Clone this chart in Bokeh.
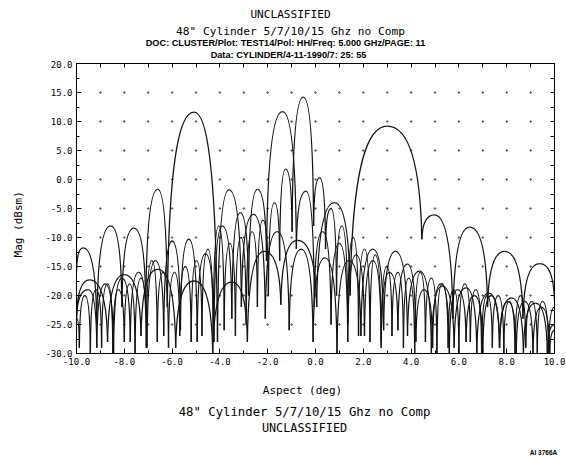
import math
from bokeh.plotting import figure
from bokeh.layouts import column, row
from bokeh.models import (ColumnDataSource, FixedTicker, PrintfTickFormatter,
                          LinearAxis, Label, Range1d)
from bokeh.embed import file_html
from bokeh.resources import INLINE

# ---------------- data ----------------
x_major = [-10, -8, -6, -4, -2, 0, 2, 4, 6, 8, 10]
x_minor = [-10, -9, -8, -7, -6, -5, -4, -3, -2, -1, 0, 1, 2, 3, 4, 5, 6, 7, 8, 9, 10]
y_major = [-30, -25, -20, -15, -10, -5, 0, 5, 10, 15, 20]
y_minor = [-30, -27.5, -25, -22.5, -20, -17.5, -15, -12.5, -10, -7.5, -5, -2.5,
           0, 2.5, 5, 7.5, 10, 12.5, 15, 17.5, 20]
grid_x = [-9, -8, -7, -6, -5, -4, -3, -2, -1, 0, 1, 2, 3, 4, 5, 6, 7, 8, 9]
grid_y = [-25, -20, -15, -10, -5, 0, 5, 10, 15]

# 5 GHz: lobe peaks and nulls (aspect deg, dBsm)
f5_x = [-10.0, -9.45, -8.7, -8.0, -7.3, -6.6, -5.85, -5.08, -4.3, -3.5, -2.85, -2.15,
        -1.45, -0.75, 0.05, 0.79, 1.45, 3.0, 4.45, 4.98, 5.75, 6.45, 7.2, 7.92, 8.68,
        9.38, 10.0]
f5_y = [-24, -17.3, -28, -16.4, -27, -15.5, -29, -17.5, -30, -17.7, -28, -12.4,
        -21.6, -10.5, -22, -4.0, -20, 9.2, -10.3, -6.1, -24, -8.2, -22, -12.4, -24,
        -14.5, -21]

# 7 GHz
f7_x = [-10.0, -9.72, -9.15, -8.57, -8.1, -7.6, -7.1, -6.6, -6.2, -5.08, -4.1, -3.62,
        -3.1, -2.6, -2.1, -1.6, -1.1, -0.6, -0.1, 0.4, 0.9, 1.4, 1.9, 2.4, 2.85, 3.35,
        3.85, 4.35, 4.85, 5.3, 5.8, 6.3, 6.75, 7.25, 7.7, 8.2, 8.7, 9.2, 9.7, 10.0]
f7_y = [-16, -11.8, -25, -8.0, -22, -8.4, -22, -1.7, -22, 11.6, -28, -1.8,
        -22, -6.0, -24, -9.0, -26, -12.0, -28, -13.5, -30, -14.0, -27, -12.0, -26, -12.4,
        -27, -15.8, -30, -18.4, -29, -18.7, -30, -19.6, -29, -20.4, -30, -21.3, -30, -25]

# 10 GHz
f10_x = [-10.0, -9.5, -9.15, -8.8, -8.45, -8.1, -7.75, -7.4, -7.05, -6.7, -6.35, -6.0,
         -5.65, -5.3, -4.95, -4.6, -4.25, -3.9, -3.5, -3.15, -2.8, -2.43, -2.05, -1.38,
         -0.8, -0.4, -0.05, 0.3, 0.65, 1.0, 1.35, 1.7, 2.05, 2.4, 2.75, 3.1, 3.45, 3.85,
         4.2, 4.55, 4.9, 5.25, 5.6, 5.95, 6.3, 6.65, 7.0, 7.35, 7.7, 8.05, 8.4, 8.75,
         9.1, 9.45, 9.8, 10.0]
f10_y = [-24, -19, -29, -18, -30, -17, -28, -16, -29, -14, -27, -10.6,
         -26, -10.3, -28, -12.8, -28, -8, -24, -5.7, -20, -1.7, -14, 11.7,
         -12, -2.0, -22, -9, -25, -11, -28, -13, -27, -14, -28, -16, -26, -14.6,
         -28, -19, -29, -18, -30, -19, -28, -20, -30, -20, -29, -21, -30, -21,
         -30, -22, -30, -26]

# 15 GHz
f15_x = [-10.0, -9.88, -9.65, -9.42, -9.18, -8.95, -8.7, -8.48, -8.25, -8.0, -7.78,
         -7.55, -7.3, -7.08, -6.85, -6.62, -6.38, -6.15, -5.9, -5.68, -5.45, -5.2,
         -4.98, -4.75, -4.5, -4.28, -4.05, -3.82, -3.58, -3.35, -3.12, -2.9, -2.65,
         -2.43, -2.2, -1.97, -1.72, -1.5, -1.25, -0.98, -0.51, -0.08, 0.17, 0.42,
         0.65, 0.88, 1.1, 1.35, 1.58, 1.8, 2.05, 2.28, 2.5, 2.75, 2.98, 3.2, 3.45,
         3.68, 3.9, 4.15, 4.38, 4.6, 4.85, 5.08, 5.3, 5.55, 5.78, 6.0, 6.25, 6.48,
         6.7, 6.95, 7.18, 7.4, 7.65, 7.88, 8.1, 8.35, 8.58, 8.8, 9.05, 9.28, 9.5,
         9.75, 10.0]
f15_y = [-24, -29, -20, -30, -19, -29, -18, -30, -19, -28, -18,
         -30, -17, -29, -14, -28, -16, -29, -16, -27, -15, -28,
         -14, -27, -12, -28, -8, -26, -11, -27, -10, -25, -9,
         -22, -7, -20, -4, -14, 1.8, -9, 14.2, -8, 0.3, -12,
         -5, -20, -8, -25, -10, -27, -12, -28, -13, -29, -15, -27, -16,
         -29, -17, -30, -16, -28, -17, -30, -18, -29, -19, -30, -18, -28,
         -19, -30, -20, -29, -20, -30, -21, -30, -20, -29, -21, -30, -21,
         -30, -22]

curves = [(f5_x, f5_y), (f7_x, f7_y), (f10_x, f10_y), (f15_x, f15_y)]
for cx, cy in curves:
    assert len(cx) == len(cy)

# ---------------- layout geometry (pixels) ----------------
W, H = 566, 456
HEAD_H = 60          # header strip
FOOT_H = 84          # footer strip
MAIN_H = H - HEAD_H - FOOT_H
SIDE_W = 30          # strip holding the rotated y title
MONO = "DejaVu Sans Mono"
SANS = "Liberation Sans"
INK = "#141414"


def strip(w, h):
    f = figure(width=w, height=h, x_range=Range1d(0, w), y_range=Range1d(0, h),
               output_backend="svg", toolbar_location=None, min_border=0,
               x_axis_location=None, y_axis_location=None)
    f.xgrid.visible = False
    f.ygrid.visible = False
    f.outline_line_color = None
    f.background_fill_color = "white"
    f.border_fill_color = "white"
    return f


def put(f, text, px, py, font, size, style="normal", angle=0.0):
    f.add_layout(Label(x=px, y=f.height - py, text=text, text_align="center",
                       text_baseline="middle", text_font=font, text_font_size=size,
                       text_font_style=style, text_color="black", angle=angle))


# header
head = strip(W, HEAD_H)
put(head, "UNCLASSIFIED", 290, 14, MONO, "11.1px")
put(head, "48\" Cylinder 5/7/10/15 Ghz no Comp", 290, 31, MONO, "11.2px")
put(head, "DOC: CLUSTER/Plot: TEST14/Pol: HH/Freq: 5.000 GHz/PAGE: 11", 285, 42.5,
    SANS, "9.2px", "bold")
put(head, "Data: CYLINDER/4-11-1990/7: 25: 55", 288, 54.5, SANS, "9.2px", "bold")

# side strip with y title
side = strip(SIDE_W, MAIN_H)
put(side, "Mag (dBsm)", 18, 233 - HEAD_H, MONO, "11px", angle=math.pi / 2)

# main chart
p = figure(width=W - SIDE_W, height=MAIN_H, x_range=Range1d(-10, 10),
           y_range=Range1d(-30, 20), output_backend="svg", toolbar_location=None,
           min_border_left=76 - SIDE_W, min_border_right=12, min_border_top=3,
           min_border_bottom=19)
p.xgrid.visible = False
p.ygrid.visible = False
p.outline_line_color = "black"
p.outline_line_width = 1
p.background_fill_color = "white"
p.border_fill_color = "white"

xa = p.below[0]
xa.ticker = FixedTicker(ticks=x_major, minor_ticks=x_minor)
xa.formatter = PrintfTickFormatter(format="%.1f")
ya = p.left[0]
ya.ticker = FixedTicker(ticks=y_major, minor_ticks=y_minor)
ya.formatter = PrintfTickFormatter(format="%.1f")
for a in (xa, ya):
    a.major_tick_in = 5
    a.major_tick_out = 0
    a.minor_tick_in = 3
    a.minor_tick_out = 0
    a.axis_line_color = "black"
    a.major_tick_line_color = "black"
    a.minor_tick_line_color = "black"
    a.major_label_text_font = MONO
    a.major_label_text_font_size = "9px"
    a.major_label_text_color = "black"
    a.major_label_standoff = 4

top = LinearAxis(ticker=FixedTicker(ticks=x_minor, minor_ticks=[]),
                 major_tick_in=4, major_tick_out=0, minor_tick_in=0, minor_tick_out=0,
                 major_label_text_font_size="0px", major_label_standoff=0,
                 major_label_overrides={t: "" for t in x_minor})
right = LinearAxis(ticker=FixedTicker(ticks=y_minor, minor_ticks=[]),
                   major_tick_in=4, major_tick_out=0, minor_tick_in=0, minor_tick_out=0,
                   major_label_text_font_size="0px", major_label_standoff=0,
                   major_label_overrides={t: "" for t in y_minor})
p.add_layout(top, "above")
p.add_layout(right, "right")

# dotted grid at intersections
gx = [x for y in grid_y for x in grid_x]
gy = [y for y in grid_y for x in grid_x]
p.scatter(gx, gy, size=1.5, color="#555555", marker="circle")


# curves drawn as arches between read peak / null points
def arches(xs, ys):
    d = dict(x0=[], y0=[], x1=[], y1=[], cx0=[], cy0=[], cx1=[], cy1=[])
    for i in range(len(xs) - 1):
        xa_, ya_, xb, yb = xs[i], ys[i], xs[i + 1], ys[i + 1]
        dxx = xb - xa_
        if yb >= ya_:
            c0 = (xa_ + 0.05 * dxx, ya_ + 0.8 * (yb - ya_))
            c1 = (xb - 0.5 * dxx, yb)
        else:
            c0 = (xa_ + 0.5 * dxx, ya_)
            c1 = (xb - 0.05 * dxx, yb + 0.8 * (ya_ - yb))
        d["x0"].append(xa_); d["y0"].append(ya_)
        d["x1"].append(xb); d["y1"].append(yb)
        d["cx0"].append(c0[0]); d["cy0"].append(c0[1])
        d["cx1"].append(c1[0]); d["cy1"].append(c1[1])
    return ColumnDataSource(d)


for cx, cy in curves:
    p.bezier(x0="x0", y0="y0", x1="x1", y1="y1", cx0="cx0", cy0="cy0",
             cx1="cx1", cy1="cy1", source=arches(cx, cy),
             line_color=INK, line_width=1.3)

# footer
foot = strip(W, FOOT_H)
FT = H - FOOT_H
put(foot, "Aspect (deg)", 302, 390 - FT, MONO, "11px")
put(foot, "48\" Cylinder 5/7/10/15 Ghz no Comp", 304, 411 - FT, MONO, "12.3px")
put(foot, "UNCLASSIFIED", 304, 427 - FT, MONO, "11.8px")
put(foot, "AI 3766A", 543, 451.5 - FT, SANS, "6.5px", "bold")

layout = column(head, row(side, p, spacing=0), foot, spacing=0)
open("out.html", "w").write(file_html(layout, INLINE))
